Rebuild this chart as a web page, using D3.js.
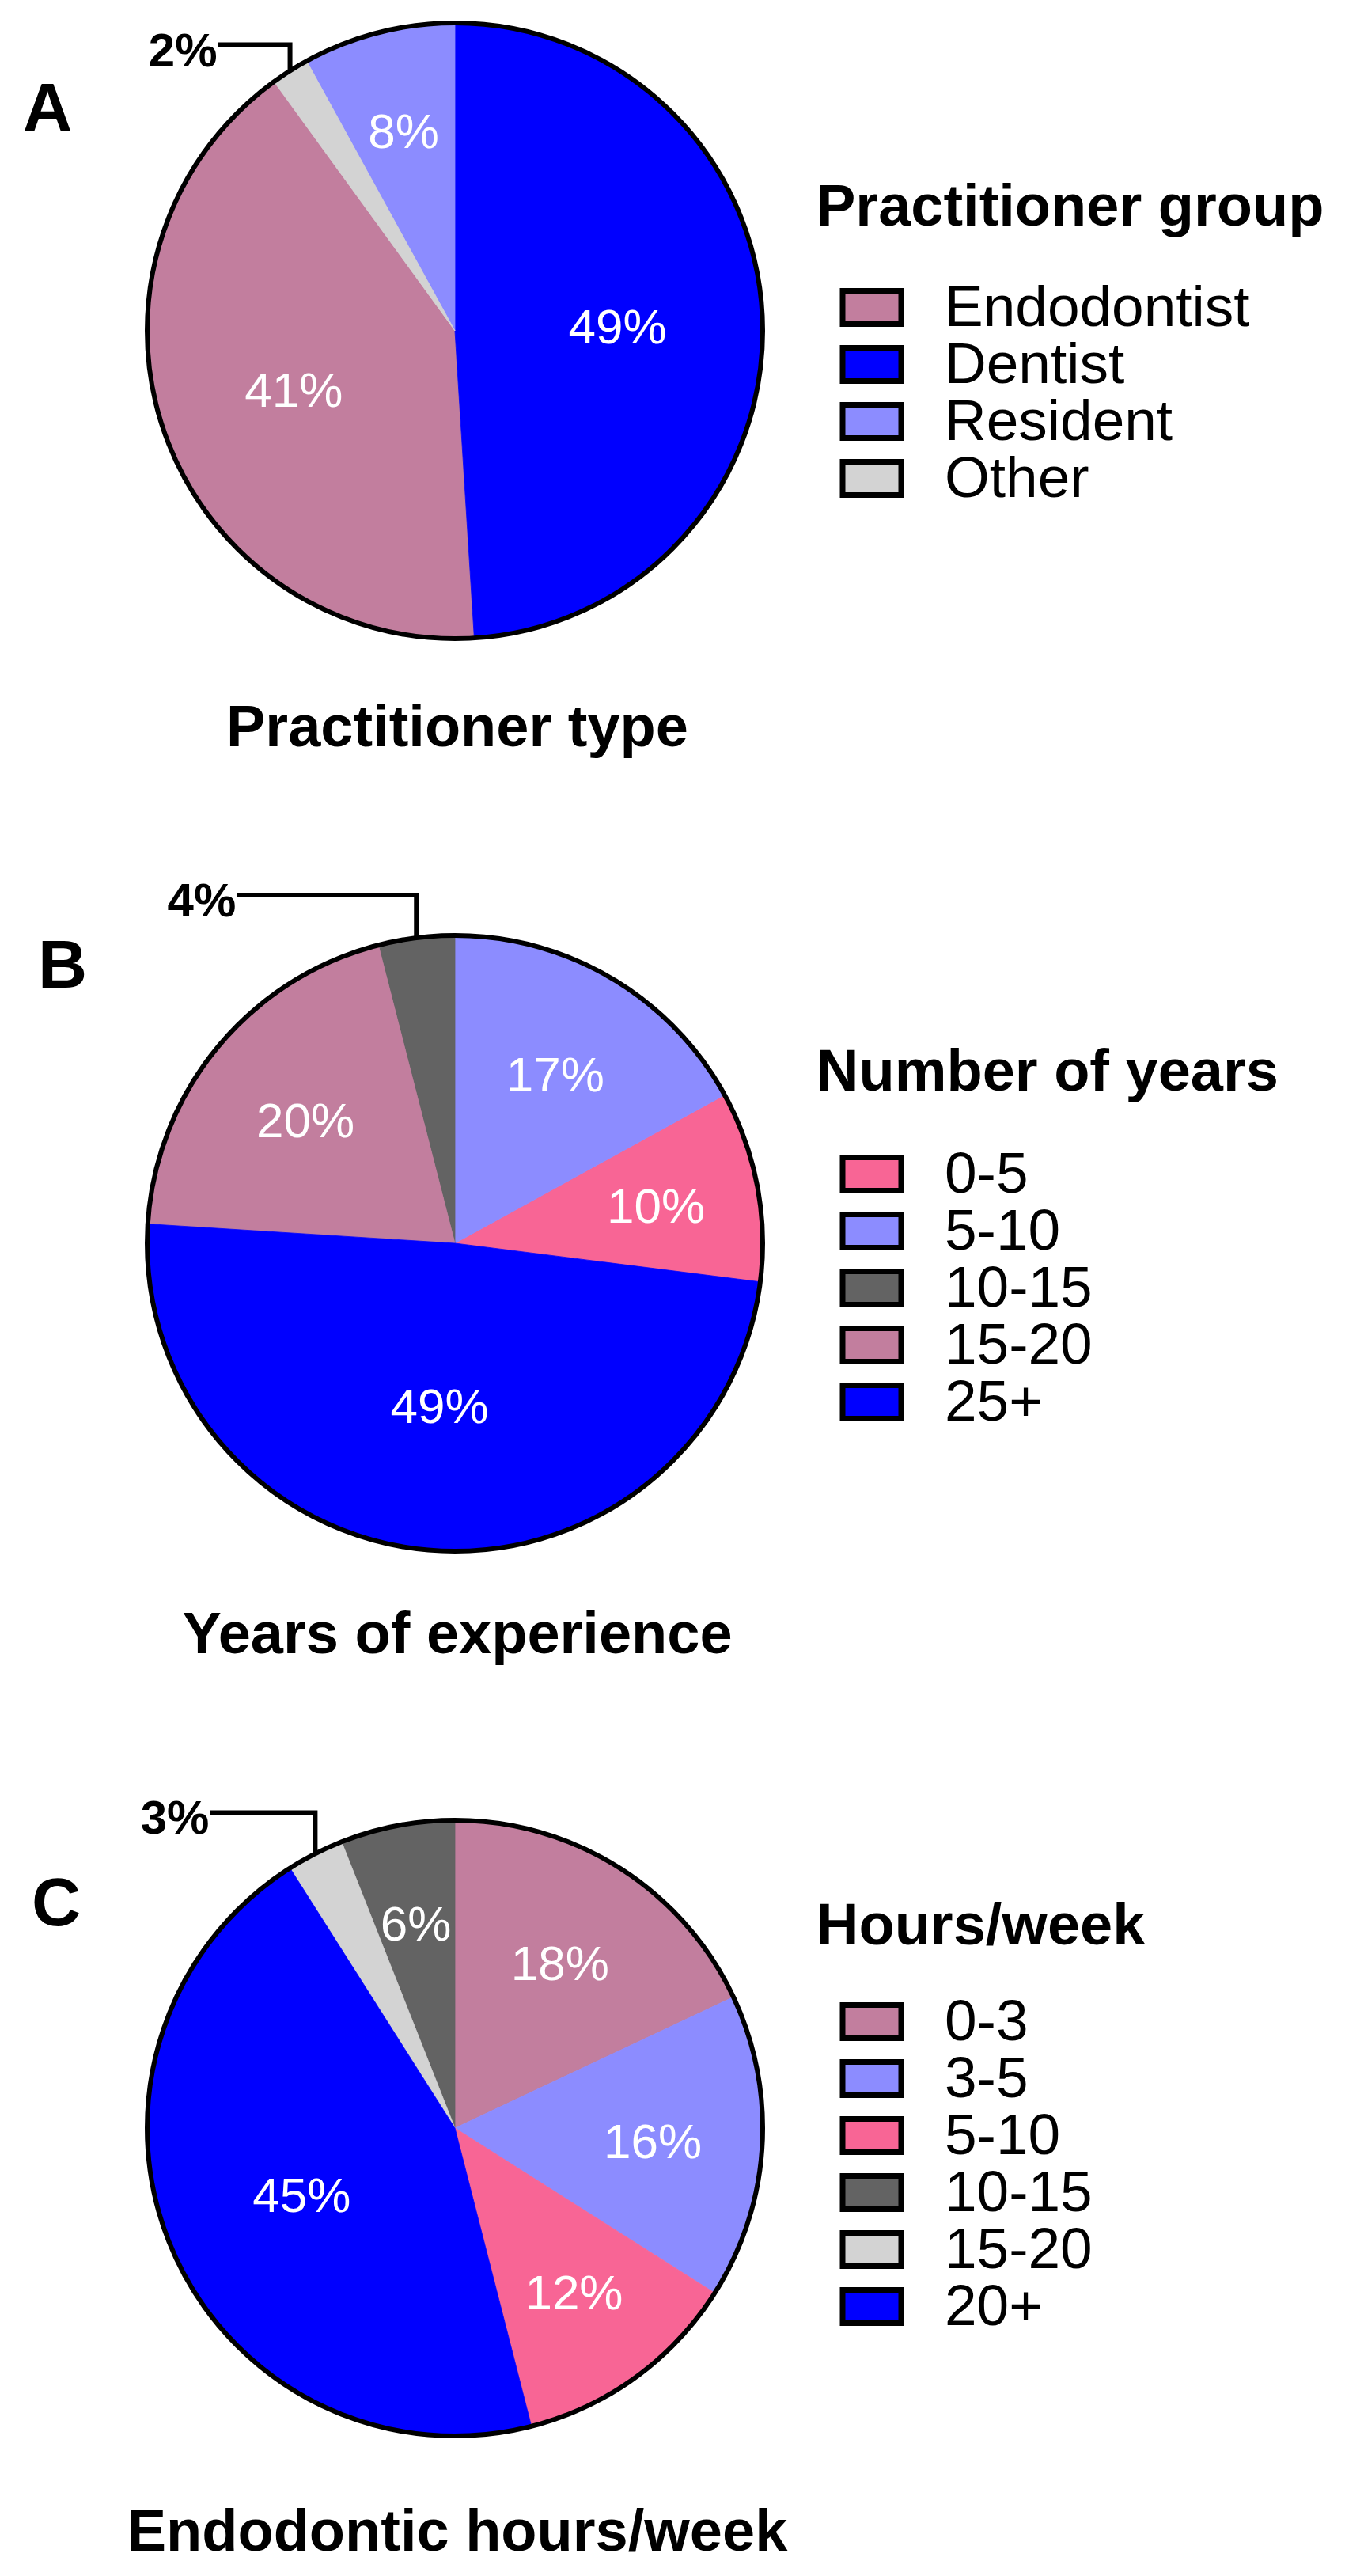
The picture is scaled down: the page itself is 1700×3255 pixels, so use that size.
<!DOCTYPE html>
<html>
<head>
<meta charset="utf-8">
<script src="https://cdn.jsdelivr.net/npm/d3@7"></script>
<style>
  body { margin: 0; background: #fff; }
  svg { display: block; font-family: "Liberation Sans", Arial, Helvetica, sans-serif; }
</style>
</head>
<body>
<svg id="chart" width="1700" height="3255"></svg>
<script>
// A - practitioner type (legend order)
var groupLabels = ["Endodontist", "Dentist", "Resident", "Other"];
var groupValues = [41, 49, 8, 2];
// slice order, clockwise from 12 o'clock
var groupOrder = ["Dentist", "Endodontist", "Other", "Resident"];
var groupColors = ["#c27e9e", "#0000ff", "#8c8cff", "#d3d3d3"];

// B - years of experience
var yearLabels = ["0-5", "5-10", "10-15", "15-20", "25+"];
var yearValues = [10, 17, 4, 20, 49];
var yearOrder = ["5-10", "0-5", "25+", "15-20", "10-15"];
var yearColors = ["#f86595", "#8c8cff", "#636363", "#c27e9e", "#0000ff"];

// C - endodontic hours/week
var hourLabels = ["0-3", "3-5", "5-10", "10-15", "15-20", "20+"];
var hourValues = [18, 16, 12, 6, 3, 45];
var hourOrder = ["0-3", "3-5", "5-10", "20+", "15-20", "10-15"];
var hourColors = ["#c27e9e", "#8c8cff", "#f86595", "#636363", "#d3d3d3", "#0000ff"];

var svg = d3.select("#chart");

var cx = 575,
  r = 389,
  legendX = 1032,
  swatchX = 1065,
  legendTextX = 1194,
  rowStep = 72;

var panels = [
  { letter: "A", title: "Practitioner type", legendTitle: "Practitioner group",
    labels: groupLabels, values: groupValues, order: groupOrder, colors: groupColors,
    cy: 418, letterX: 29, letterY: 165, legendY: 285, rowTop: 364, titleY: 943, rise: 33, run: 91 },
  { letter: "B", title: "Years of experience", legendTitle: "Number of years",
    labels: yearLabels, values: yearValues, order: yearOrder, colors: yearColors,
    cy: 1571, letterX: 48, letterY: 1248, legendY: 1378, rowTop: 1459, titleY: 2089, rise: 54, run: 227 },
  { letter: "C", title: "Endodontic hours/week", legendTitle: "Hours/week",
    labels: hourLabels, values: hourValues, order: hourOrder, colors: hourColors,
    cy: 2689, letterX: 40, letterY: 2433, legendY: 2457, rowTop: 2530, titleY: 3223, rise: 52, run: 133 }
];

panels.forEach(drawPanel);

function drawPanel(p) {
  var color = d3.scaleOrdinal().domain(p.labels).range(p.colors);
  var data = p.labels.map((k, i) => ({ key: k, value: p.values[i] }));
  var total = d3.sum(p.values);

  var pie = d3
    .pie()
    .value(d => d.value)
    .sort((a, b) => p.order.indexOf(a.key) - p.order.indexOf(b.key));

  var arc = d3.arc().innerRadius(0).outerRadius(r);
  var arcs = pie(data);

  var g = svg.append("g").attr("transform", `translate(${cx},${p.cy})`);

  g.selectAll("path.slice")
    .data(arcs)
    .enter()
    .append("path")
    .attr("class", "slice")
    .attr("d", arc)
    .attr("fill", d => color(d.data.key))
    .attr("stroke", d => color(d.data.key))
    .attr("stroke-width", 0.8);

  // outline only round the outside
  g.append("circle")
    .attr("r", r)
    .attr("fill", "none")
    .attr("stroke", "#000")
    .attr("stroke-width", 6);

  // labels inside the bigger slices
  g.selectAll("text.pct")
    .data(arcs.filter(d => d.data.value >= 5))
    .enter()
    .append("text")
    .attr("class", "pct")
    .attr("transform", function(d) {
      var mid = (d.startAngle + d.endAngle) / 2;
      var k = 0.7 - 0.35 * (d.data.value / total);
      return `translate(${k * r * Math.sin(mid)},${-k * r * Math.cos(mid)})`;
    })
    .attr("text-anchor", "middle")
    .attr("dy", "0.36em")
    .attr("fill", "#fff")
    .style("font-size", "62px")
    .text(d => d.data.value + "%");

  // small slices get a bracket callout
  var small = arcs.filter(d => d.data.value < 5);
  small.forEach(function(d) {
    var mid = (d.startAngle + d.endAngle) / 2;
    var ex = r * Math.sin(mid),
      ey = -r * Math.cos(mid);
    var ly = ey - p.rise,
      lx = ex - p.run;
    g.append("path")
      .attr("d", `M${lx},${ly}H${ex}V${ey}`)
      .attr("fill", "none")
      .attr("stroke", "#000")
      .attr("stroke-width", 6);
    g.append("text")
      .attr("x", lx - 1)
      .attr("y", ly + 27)
      .attr("text-anchor", "end")
      .style("font-size", "60px")
      .style("font-weight", "bold")
      .text(d.data.value + "%");
  });

  svg.append("text")
    .attr("x", p.letterX)
    .attr("y", p.letterY)
    .style("font-size", "86px")
    .style("font-weight", "bold")
    .text(p.letter);

  svg.append("text")
    .attr("x", 578)
    .attr("y", p.titleY)
    .attr("text-anchor", "middle")
    .style("font-size", "74px")
    .style("font-weight", "bold")
    .text(p.title);

  // legend
  svg.append("text")
    .attr("x", legendX)
    .attr("y", p.legendY)
    .style("font-size", "74px")
    .style("font-weight", "bold")
    .text(p.legendTitle);

  var legend = svg
    .selectAll(".legend-" + p.letter)
    .data(p.labels)
    .enter()
    .append("g")
    .attr("class", "legend-" + p.letter)
    .attr("transform", (d, i) => `translate(0,${p.rowTop + i * rowStep})`);

  legend.append("rect")
    .attr("x", swatchX)
    .attr("y", 3.5)
    .attr("width", 74)
    .attr("height", 42)
    .attr("fill", d => color(d))
    .attr("stroke", "#000")
    .attr("stroke-width", 7);

  legend.append("text")
    .attr("x", legendTextX)
    .attr("y", 48)
    .style("font-size", "73px")
    .text(d => d);
}
</script>
</body>
</html>
